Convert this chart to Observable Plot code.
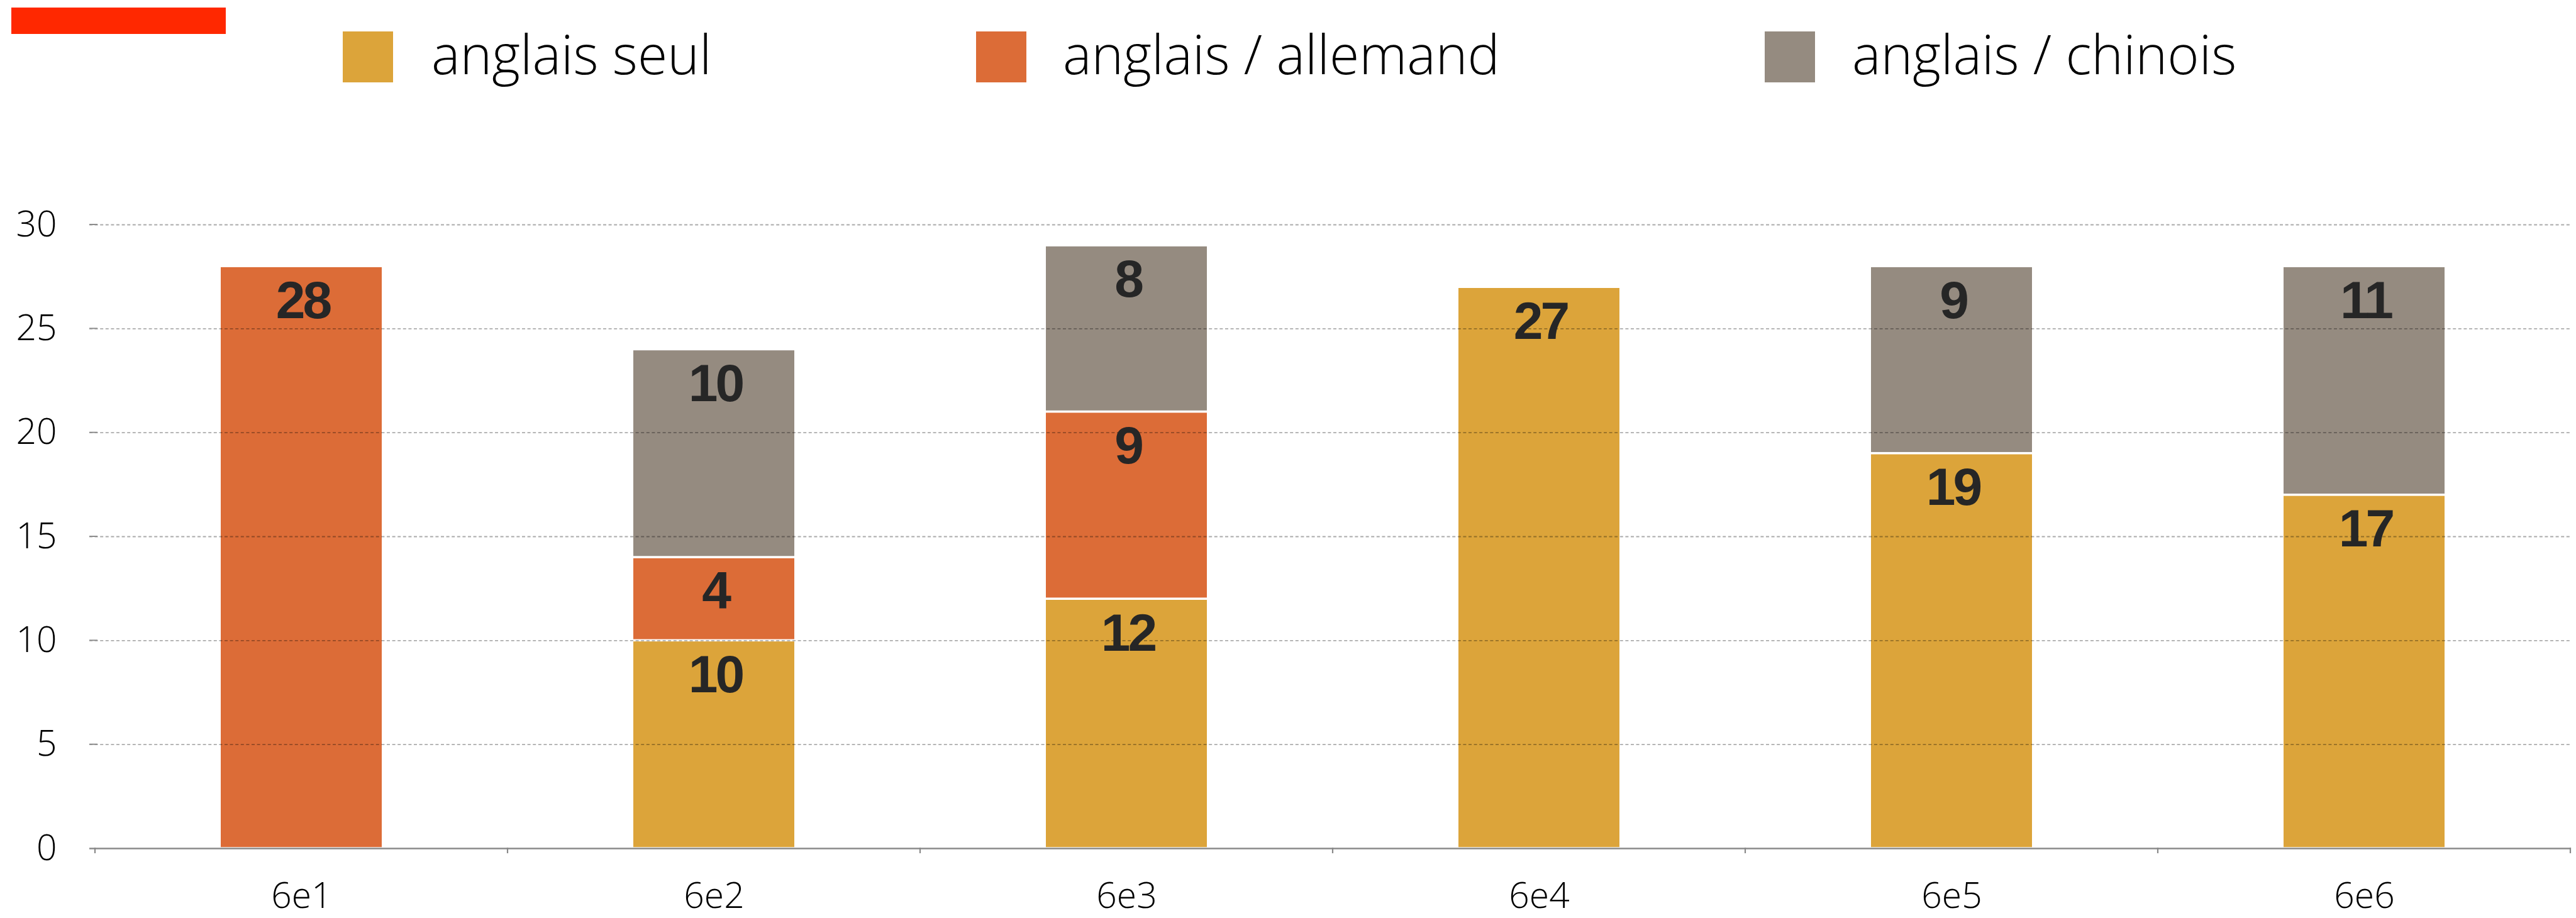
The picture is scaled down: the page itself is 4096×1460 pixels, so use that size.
<!DOCTYPE html>
<html><head><meta charset="utf-8">
<script src="https://cdn.jsdelivr.net/npm/d3@7"></script>
<script src="https://cdn.jsdelivr.net/npm/@observablehq/plot@0.6"></script>
<style>
html,body{margin:0;padding:0;background:#fff;}
#chart{width:4096px;height:1460px;position:relative;overflow:hidden;background:#fff;}
#legend,#plot{display:block;}
g[aria-label="text"] text{font-stretch:condensed;letter-spacing:-4px;}
</style></head><body><div id="chart"><div id="legend"></div><div id="plot"></div></div>
<script>
// ---- data ----
const classes = ["6e1", "6e2", "6e3", "6e4", "6e5", "6e6"];
const seriesNames = ["anglais seul", "anglais / allemand", "anglais / chinois"];
const seriesColors = ["#DCA43A", "#DC6C37", "#958B80"];
const anglaisSeul = [0, 10, 12, 27, 19, 17];
const anglaisAllemand = [28, 4, 9, 0, 0, 0];
const anglaisChinois = [0, 10, 8, 0, 9, 11];
const yTicks = [0, 5, 10, 15, 20, 25, 30];

const seriesValues = [anglaisSeul, anglaisAllemand, anglaisChinois];
const rows = [];
classes.forEach((c, i) => {
  seriesValues.forEach((arr, s) => {
    if (arr[i] > 0) rows.push({classe: c, serie: seriesNames[s], value: arr[i]});
  });
});

// ---- legend (above the plot) ----
const legendH = 160;
const leg = d3.select("#legend").append("svg")
  .attr("width", 4096).attr("height", legendH).style("display", "block");
leg.append("rect").attr("x", 18).attr("y", 12).attr("width", 341).attr("height", 42).attr("fill", "#FF2800");
const swatchX = [545, 1552, 2806];
const textX = [686, 1690, 2945];
seriesNames.forEach((name, i) => {
  leg.append("rect").attr("x", swatchX[i]).attr("y", 50).attr("width", 80).attr("height", 81).attr("fill", seriesColors[i]);
  leg.append("text").attr("x", textX[i]).attr("y", 118)
    .attr("font-family", "'Open Sans', sans-serif").attr("font-weight", 300)
    .attr("font-size", 86).attr("fill", "#000").text(name);
});

// ---- custom axis ticks through the plot's scales ----
const axisExtend = 7;
function tickMarks(index, scales, values, dimensions) {
  const x = scales.x, y = scales.y;
  const g = d3.create("svg:g");
  const bw = x.bandwidth(), step = x.step();
  const y0 = y(0);
  const bounds = classes.map(c => x(c) + bw / 2 - step / 2);
  bounds.push(x(classes[classes.length - 1]) + bw / 2 + step / 2);
  bounds.forEach(b => {
    g.append("line").attr("x1", b).attr("x2", b).attr("y1", y0 - 1).attr("y2", y0 + 8)
      .attr("stroke", "#898989").attr("stroke-width", 2.2);
  });
  yTicks.filter(t => t > 0).forEach(t => {
    g.append("line").attr("x1", dimensions.marginLeft - axisExtend).attr("x2", dimensions.marginLeft - axisExtend + 13)
      .attr("y1", y(t)).attr("y2", y(t)).attr("stroke", "#8c8c8c").attr("stroke-width", 2);
  });
  return g.node();
}

const chart = Plot.plot({
  width: 4096, height: 1300,
  marginLeft: 149, marginRight: 8, marginTop: 197, marginBottom: 111,
  style: {fontFamily: "'Open Sans', sans-serif", background: "#fff", color: "#000"},
  x: {domain: classes, paddingInner: 0.61, paddingOuter: 0.305, label: null},
  y: {domain: [0, 30], ticks: yTicks, label: null},
  color: {domain: seriesNames, range: seriesColors},
  marks: [
    Plot.barY(rows, {x: "classe", y: "value", fill: "serie", insetTop: 1.8, insetBottom: 1.8}),
    Plot.gridY(yTicks.filter(d => d > 0), {stroke: "#000", strokeOpacity: 0.33, strokeWidth: 1.8, strokeDasharray: "5,3.6", insetLeft: -axisExtend}),
    Plot.ruleY([0], {stroke: "#898989", strokeWidth: 2.3, insetLeft: -axisExtend}),
    tickMarks,
    Plot.axisY(yTicks, {tickSize: 0, tickPadding: 52 + axisExtend, fontSize: 57, fontWeight: 300, fill: "#000"}),
    Plot.axisX({tickSize: 0, tickPadding: 54, fontSize: 57, fontWeight: 300, fill: "#000", label: null}),
    Plot.text(rows, Plot.stackY2({
      x: "classe", y: "value", text: d => String(d.value), dy: 55, dx: 2,
      fontSize: 84, fontWeight: "bold", fill: "#262626",
      fontFamily: "'Liberation Sans Narrow', 'Liberation Sans', 'DejaVu Sans Condensed', sans-serif"
    }))
  ]
});
document.getElementById("plot").appendChild(chart);
</script>
</body></html>
